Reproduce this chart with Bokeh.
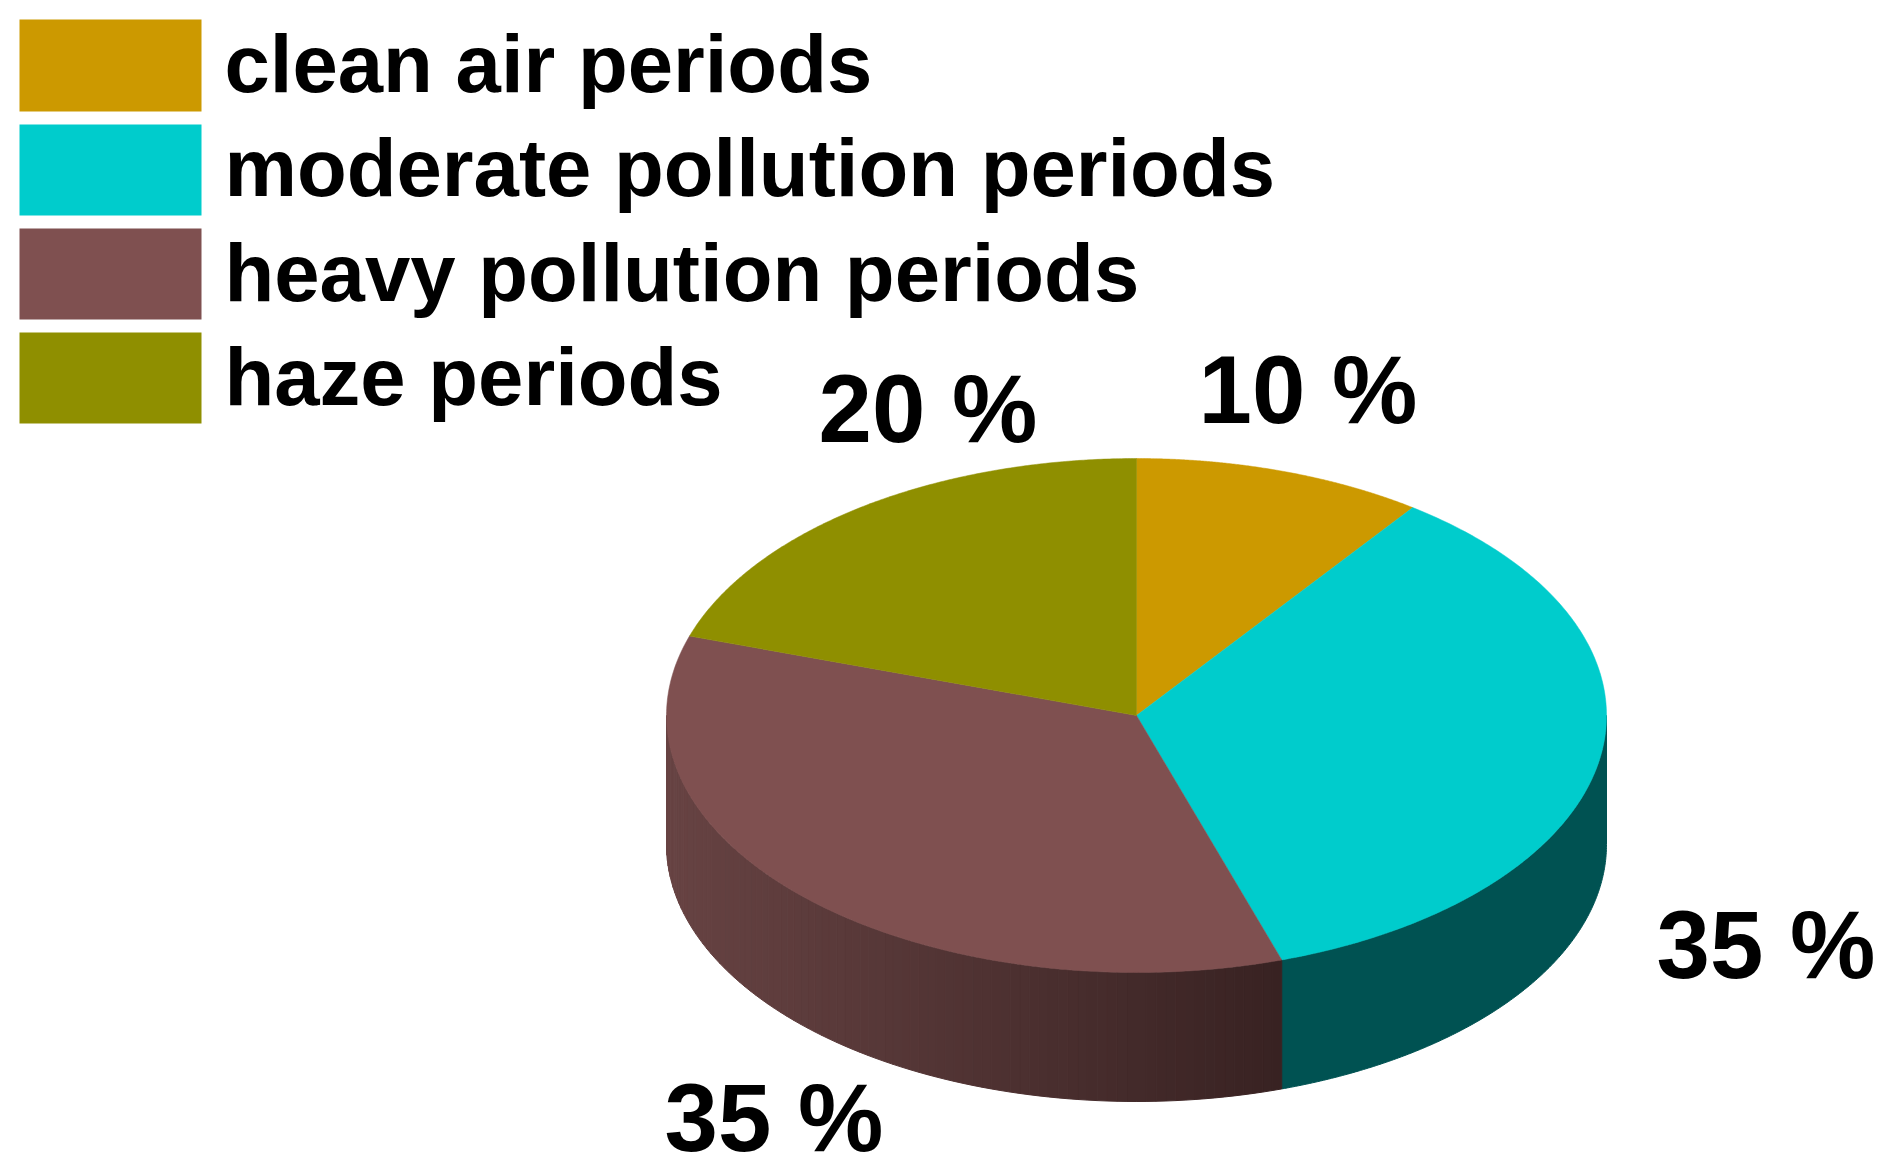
import numpy as np
from bokeh.plotting import figure
from bokeh.core.properties import value
from bokeh.embed import file_html
from bokeh.resources import INLINE

# data
categories = ["clean air periods", "moderate pollution periods", "heavy pollution periods", "haze periods"]
shares = [10, 35, 35, 20]
share_labels = ["10 %", "35 %", "35 %", "20 %"]

# style
top_colors = ["#CC9900", "#00CCCC", "#7F5050", "#8F8F00"]
side_left = ["#6B4500", "#005252", "#674343", "#4B4B00"]
side_right = ["#6B4500", "#005252", "#382222", "#4B4B00"]

W, H = 1892, 1174
p = figure(width=W, height=H, x_range=(0, W), y_range=(H, 0),
           output_backend="svg", toolbar_location=None, min_border=0,
           background_fill_color="white", border_fill_color="white", outline_line_color=None)
p.axis.visible = False
p.grid.visible = False

cx, cy, rx, ry, depth = 1136, 715, 470, 257, 129


def hex2rgb(c):
    return np.array([int(c[i:i + 2], 16) for i in (1, 3, 5)], dtype=float)


def rgb2hex(v):
    return "#%02x%02x%02x" % tuple(int(round(a)) for a in v)


def ex(t):
    return cx + rx * np.sin(np.radians(t))


def ey(t):
    return cy - ry * np.cos(np.radians(t))


edges = np.concatenate([[0], np.cumsum(shares)]) * 360.0 / sum(shares)

# side wall: only the part of each slice facing the viewer
xs, ys, cols = [], [], []
for i in range(len(shares)):
    a, b = max(edges[i], 90.0), min(edges[i + 1], 270.0)
    if b <= a:
        continue
    if side_left[i] == side_right[i]:
        ts = np.linspace(a, b, 200)
        xs.append(np.concatenate([ex(ts), ex(ts[::-1])]))
        ys.append(np.concatenate([ey(ts), ey(ts[::-1]) + depth]))
        cols.append(side_left[i])
        continue
    ts = np.linspace(a, b, 91)
    xl, xr = ex(b), ex(a)
    cl, cr = hex2rgb(side_left[i]), hex2rgb(side_right[i])
    for t0, t1 in zip(ts[:-1], ts[1:]):
        f = (0.5 * (ex(t0) + ex(t1)) - xl) / (xr - xl)
        col = rgb2hex(cl + (cr - cl) * f)
        xs.append([ex(t0), ex(t1), ex(t1), ex(t0)])
        ys.append([ey(t0), ey(t1), ey(t1) + depth, ey(t0) + depth])
        cols.append(col)
p.patches(xs, ys, fill_color=cols, line_color=cols, line_width=1)

# top face
for i in range(len(shares)):
    ts = np.linspace(edges[i], edges[i + 1], 200)
    p.patch(np.concatenate([[cx], ex(ts)]), np.concatenate([[cy], ey(ts)]),
            fill_color=top_colors[i], line_color=top_colors[i], line_width=0.5)

# legend
sw_top = [19, 124, 228, 332]
sw_bottom = [111, 215, 319, 423]
baselines = [63, 167, 272, 376]
p.quad(left=[19] * 4, right=[201] * 4, top=sw_top, bottom=sw_bottom, fill_color=top_colors, line_color=None)
p.text(x=[224] * 4, y=baselines, text=categories, text_font=value("Liberation Sans"),
       text_font_style="bold", text_font_size="81.5px", text_baseline="alphabetic",
       text_align="left", text_color="black")

# share labels
lab_x = [1198, 1656, 664, 818]
lab_y = [389, 944, 1117, 408]
p.text(x=lab_x, y=lab_y, text=share_labels, text_font=value("Liberation Sans"),
       text_font_style="bold", text_font_size="96px", text_baseline="alphabetic",
       text_align="left", text_color="black")

open("out.html", "w").write(file_html(p, INLINE))
